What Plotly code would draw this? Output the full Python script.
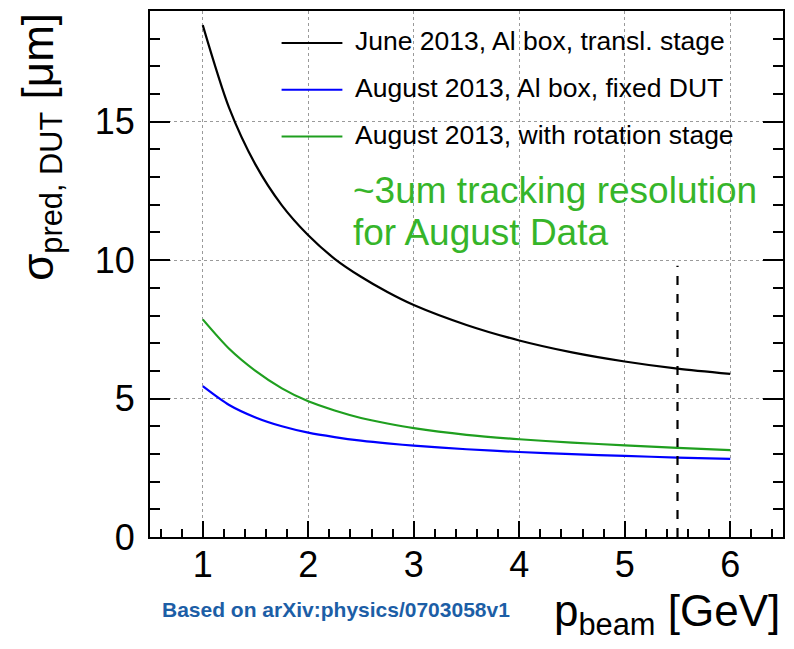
import plotly.graph_objects as go

# ---- data ----
p_beam = [1, 1.25, 1.5, 1.75, 2, 2.25, 2.5, 2.75, 3, 3.5, 4, 4.5, 5, 5.5, 6]
june_transl = [18.49, 15.5, 13.45, 11.98, 10.9, 10.05, 9.4, 8.85, 8.38, 7.66, 7.1, 6.67, 6.34, 6.08, 5.89]
aug_fixed = [5.45, 4.77, 4.32, 4.0, 3.77, 3.61, 3.48, 3.38, 3.30, 3.17, 3.07, 2.99, 2.93, 2.87, 2.82]
aug_rot = [7.86, 6.80, 6.00, 5.37, 4.90, 4.57, 4.30, 4.10, 3.93, 3.69, 3.53, 3.41, 3.31, 3.22, 3.14]

series_names = ["June 2013, Al box, transl. stage",
                "August 2013, Al box, fixed DUT",
                "August 2013, with rotation stage"]
series_vals = [june_transl, aug_fixed, aug_rot]
series_colors = ["#000000", "#0000ff", "#1f9f1f"]

cut_p = 5.5
cut_top = 9.8
x_ticks = [1, 2, 3, 4, 5, 6]
y_ticks = [0, 5, 10, 15]

W, H = 794, 649
L, R, T, B = 150, 9, 9, 112
FONT = "Liberation Sans, Arial, Helvetica, sans-serif"

def px(xp):
    return (xp - L) / (W - L - R)

def py(yp):
    return (H - B - yp) / (H - T - B)

fig = go.Figure()
for name, vals, col in zip(series_names, series_vals, series_colors):
    fig.add_trace(go.Scatter(x=p_beam, y=vals, mode="lines", name=name,
                             line=dict(color=col, width=2.2, shape="spline", smoothing=0.8),
                             showlegend=False))

# dashed cut line
fig.add_shape(type="line", xref="x", yref="y", x0=cut_p, x1=cut_p, y0=0, y1=cut_top,
              line=dict(color="black", width=2.2, dash="dash"))

# manual legend
leg_rows = [41, 88, 135]
for name, col, yr in zip(series_names, series_colors, leg_rows):
    fig.add_shape(type="line", xref="paper", yref="paper",
                  x0=px(282), x1=px(343), y0=py(yr), y1=py(yr),
                  line=dict(color=col, width=2))
    fig.add_annotation(xref="paper", yref="paper", x=px(354), y=py(yr - 2),
                       xanchor="left", yanchor="middle", showarrow=False,
                       text=name, font=dict(family=FONT, size=26.5, color="black"))

# green note
fig.add_annotation(xref="paper", yref="paper", x=px(352), y=py(189),
                   xanchor="left", yanchor="middle", showarrow=False,
                   text="~3um tracking resolution",
                   font=dict(family=FONT, size=37, color="#36b52a"))
fig.add_annotation(xref="paper", yref="paper", x=px(352), y=py(231),
                   xanchor="left", yanchor="middle", showarrow=False,
                   text="for August Data",
                   font=dict(family=FONT, size=37, color="#36b52a"))

# axis titles
fig.add_annotation(xref="paper", yref="paper", x=px(41), y=py(145),
                   xanchor="center", yanchor="middle", showarrow=False, textangle=-90,
                   text="σ<sub>pred, DUT</sub> [μm]",
                   font=dict(family=FONT, size=44, color="black"))
fig.add_annotation(xref="paper", yref="paper", x=px(784), y=py(614),
                   xanchor="right", yanchor="middle", showarrow=False,
                   text="p<sub>beam</sub> [GeV]",
                   font=dict(family=FONT, size=44, color="black"))

# source note
fig.add_annotation(xref="paper", yref="paper", x=px(337), y=py(610),
                   xanchor="center", yanchor="middle", showarrow=False,
                   text="<b>Based on arXiv:physics/0703058v1</b>",
                   font=dict(family=FONT, size=21, color="#1c5ea6"))

fig.update_xaxes(range=[0.5, 6.5], tickvals=x_ticks, ticks="inside", ticklen=16, tickwidth=2,
                 tickcolor="black", showline=True, linecolor="black", linewidth=2, mirror=True,
                 showgrid=True, gridcolor="#9a9a9a", gridwidth=1, griddash="dot",
                 zeroline=False, tickfont=dict(family=FONT, size=36, color="black"),
                 ticklabelstandoff=-5,
                 minor=dict(dtick=0.2, tick0=0, ticks="inside", ticklen=8, tickwidth=2,
                            tickcolor="black", showgrid=False))
fig.update_yaxes(range=[0, 19], tickvals=y_ticks, ticks="inside", ticklen=20, tickwidth=2,
                 tickcolor="black", showline=True, linecolor="black", linewidth=2, mirror="allticks",
                 showgrid=True, gridcolor="#9a9a9a", gridwidth=1, griddash="dot",
                 zeroline=False, tickfont=dict(family=FONT, size=36, color="black"),
                 ticklabelstandoff=6,
                 minor=dict(dtick=1, tick0=0, ticks="inside", ticklen=10, tickwidth=2,
                            tickcolor="black", showgrid=False))

fig.update_layout(width=W, height=H, margin=dict(l=L, r=R, t=T, b=B),
                  paper_bgcolor="white", plot_bgcolor="white",
                  font=dict(family=FONT))

fig.write_html("out.html")
